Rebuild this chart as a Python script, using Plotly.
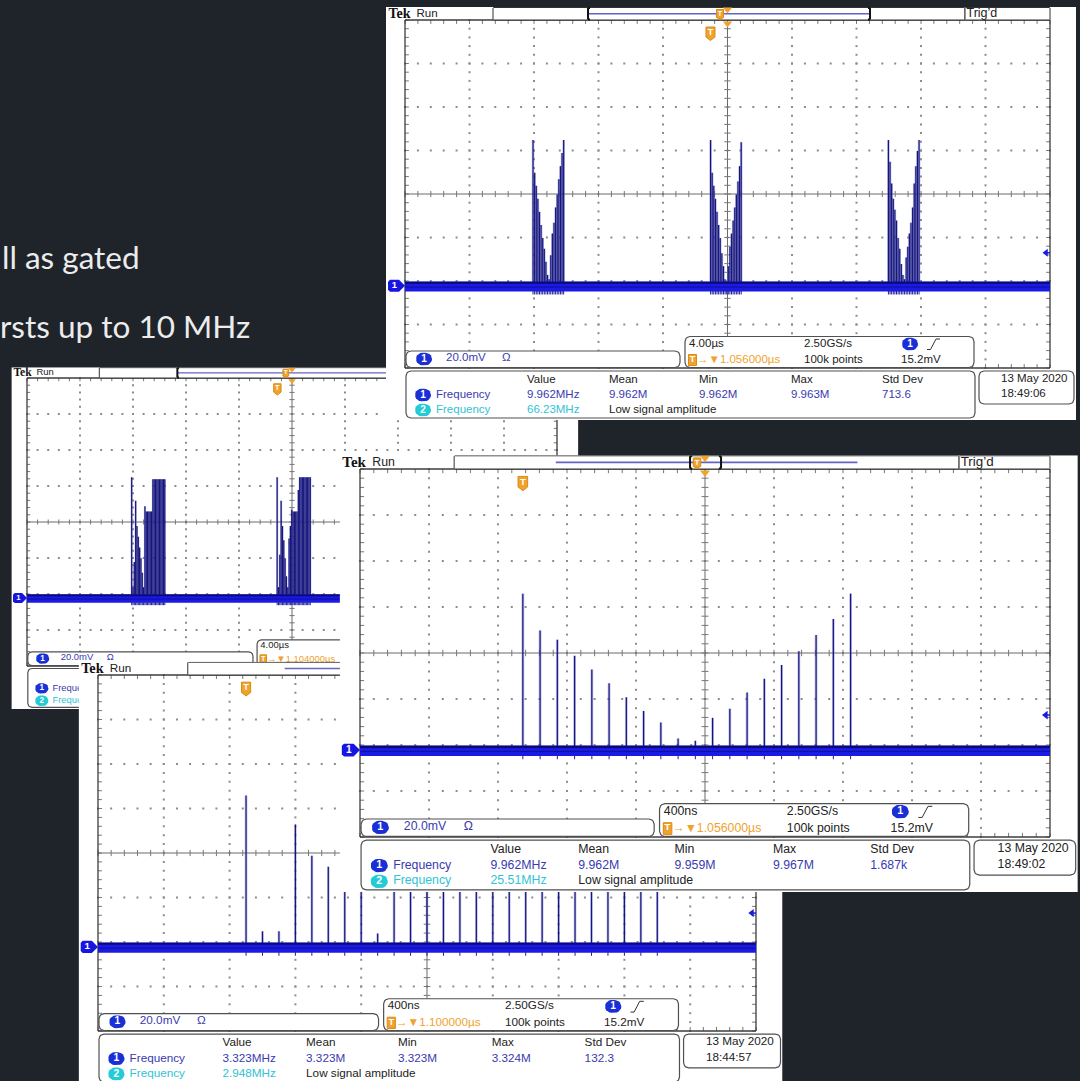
import numpy as np
import plotly.graph_objects as go

W, H = 1080, 1081
SLIDE_BG = "#1f232a"
SLIDE_LINES = ["ll as gated", "rsts up to 10 MHz"]

# ---------------- channel 1 settings (same on every capture) ----------------
CH1_POS_DIV = -2.11          # ground marker position, divisions
CH1_MV_PER_DIV = 20.0
TRIG_LEVEL_MV = 15.2

# ---------------- capture A: 4.00 us/div, trigger 1.104 us ----------------
A_US_PER_DIV = 4.0
A_TRIG_US = 1.104
A_BURST_START_US = [-12.10, -1.12]
A_PULSE_OFFSET_US = [0.0, 0.1, 0.2, 0.3, 0.4, 0.5, 0.6, 0.7, 0.8, 0.9, 1.0, 1.1, 1.2,
                     1.3, 1.4, 1.5, 1.6, 1.7, 1.8, 1.9, 2.0, 2.1, 2.2, 2.3, 2.4, 2.5]
A_PEAK_MV = [
    [67, 6, 20, 54, 40, 34, 28, 22, 14, 6, 51, 48, 48, 48, 48, 48,
     66, 66, 66, 66, 66, 66, 66, 66, 66, 66],
    [67, 6, 24, 54, 40, 32, 22, 12, 6, 33, 40, 49, 48, 48, 48, 48,
     60, 67, 67, 67, 67, 67, 67, 67, 67, 67],
]

# ---------------- capture B: 4.00 us/div, trigger 1.056 us ----------------
B_US_PER_DIV = 4.0
B_TRIG_US = 1.056
B_BURST_START_US = [-12.06, -1.05, 9.98]
B_PULSE_OFFSET_US = [0.0, 0.1, 0.2, 0.3, 0.4, 0.5, 0.6, 0.7, 0.8, 0.9,
                     1.0, 1.1, 1.2, 1.3, 1.4, 1.5, 1.6, 1.7, 1.8, 1.9]
B_PEAK_MV = [
    [67, 52, 46, 40, 34, 28, 22, 17, 11, 5, 3, 14, 24, 29, 36, 42, 49, 55, 61, 67],
    [67, 52, 46, 40, 34, 28, 22, 15, 9, 3, 2, 9, 18, 24, 30, 36, 42, 48, 55, 66],
    [67, 57, 47, 40, 35, 30, 22, 17, 10, 5, 3, 13, 18, 24, 29, 36, 47, 55, 62, 67],
]

# ---------------- capture C: 400 ns/div, trigger 1.100 us ----------------
C_NS_PER_DIV = 400.0
C_TRIG_NS = 1100.0
C_PULSE_NS = [-1100, -1000, -900, -800, -700, -600, -500, -400, -300, -200, -100, 0,
              100, 200, 300, 400, 500, 600, 700, 800, 900, 1000, 1100, 1200, 1300, 1400]
C_PEAK_MV = [68, 7, 7, 55, 41, 36, 31, 30, 6, 30, 29, 30, 29,
             30, 29, 30, 29, 30, 29, 30, 29, 30, 29, 30, 29, 30]

# ---------------- capture D: 400 ns/div, trigger 1.056 us ----------------
D_NS_PER_DIV = 400.0
D_TRIG_NS = 1056.0
D_PULSE_NS = [-1056, -956, -856, -756, -656, -556, -456, -356, -256, -156,
              -56, 44, 144, 244, 344, 444, 544, 644, 744, 844]
D_PEAK_MV = [68, 52, 48, 41, 35, 29, 23, 17, 12, 5, 4, 14, 18, 25, 31, 37, 43, 50, 57, 68]

# ---------------- readouts ----------------
MEAS_HEADERS = ["Value", "Mean", "Min", "Max", "Std Dev"]
B_CH1_MEAS = ["9.962MHz", "9.962M", "9.962M", "9.963M", "713.6"]
B_CH2_VALUE = "66.23MHz"
D_CH1_MEAS = ["9.962MHz", "9.962M", "9.959M", "9.967M", "1.687k"]
D_CH2_VALUE = "25.51MHz"
C_CH1_MEAS = ["3.323MHz", "3.323M", "3.323M", "3.324M", "132.3"]
C_CH2_VALUE = "2.948MHz"

SANS = "Liberation Sans, Arial, sans-serif"
SERIF = "Liberation Serif, Times New Roman, serif"
BLUE_TXT = "#3a3ab0"
CYAN_TXT = "#2fc3d3"
BLACK_TXT = "#222222"
ORANGE = "#f0a22e"
BADGE_BLUE = "#1a2fd6"
BADGE_CYAN = "#22cbd6"


# Screen layout of one Tek capture, in pixels of a reference-size capture
# whose graticule centre is (727.5, 194) with 64.5 x 43.5 px per division.
def rx(px):
    return (px - 727.5) / 64.5


def ry(py):
    return (194.0 - py) / 43.5


X_MIN, X_MAX = rx(386), rx(1076)
Y_TOP, Y_BOT = ry(7), ry(420)

fig = go.Figure()


def add_fill(ax, xs, ys, fill, line=None, width=0.0):
    fig.add_trace(go.Scatter(x=xs, y=ys, mode="lines", fill="toself", fillcolor=fill,
                             line=dict(color=line or fill, width=width),
                             xaxis=ax[0], yaxis=ax[1], hoverinfo="skip", showlegend=False))


def add_segments(ax, segs, color, width):
    xs, ys = [], []
    for x0, y0, x1, y1 in segs:
        xs += [x0, x1, None]
        ys += [y0, y1, None]
    fig.add_trace(go.Scatter(x=xs, y=ys, mode="lines", line=dict(color=color, width=width),
                             xaxis=ax[0], yaxis=ax[1], hoverinfo="skip", showlegend=False))


def add_markers(ax, xs, ys, symbol, size, color):
    fig.add_trace(go.Scatter(x=xs, y=ys, mode="markers",
                             marker=dict(symbol=symbol, size=size, color=color, line=dict(width=0)),
                             xaxis=ax[0], yaxis=ax[1], hoverinfo="skip", showlegend=False))


def add_text(ax, xs, ys, texts, size, color, family=SANS, pos="middle right", bold=False):
    fig.add_trace(go.Scatter(x=xs, y=ys, mode="text", text=texts, textposition=pos,
                             textfont=dict(size=size, color=color, family=family,
                                           weight="bold" if bold else "normal"),
                             xaxis=ax[0], yaxis=ax[1], hoverinfo="skip", showlegend=False))


def rounded(x0, y0, x1, y1, r, n=6):
    pts = []
    for cx, cy, a0, a1 in [(x1 - r, y0 + r, -90, 0), (x1 - r, y1 - r, 0, 90),
                           (x0 + r, y1 - r, 90, 180), (x0 + r, y0 + r, 180, 270)]:
        for a in np.linspace(a0, a1, n):
            t = np.radians(a)
            pts.append((cx + r * np.cos(t), cy + r * np.sin(t)))
    pts.append(pts[0])
    return [rx(p[0]) for p in pts], [ry(p[1]) for p in pts]


def badge(ax, cx, cy, label, color, s, w=16, h=12.5):
    xs, ys = rounded(cx - w / 2, cy - h / 2, cx + w / 2, cy + h / 2, h / 2)
    add_fill(ax, xs, ys, color)
    add_text(ax, [rx(cx)], [ry(cy)], [label], 10 * s, "#ffffff", pos="middle center", bold=True)


def t_badge(ax, cx, cy, s, hw=4.5, top=6, bot=4, tip=7.5, size=9):
    xs = [cx - hw, cx + hw, cx + hw, cx, cx - hw, cx - hw]
    ys = [cy - top, cy - top, cy + bot, cy + tip, cy + bot, cy - top]
    add_fill(ax, [rx(v) for v in xs], [ry(v) for v in ys], ORANGE, "#d98b12", 1)
    add_text(ax, [rx(cx)], [ry(cy - 0.5)], ["T"], size * s, "#ffffff", pos="middle center", bold=True)


def draw_capture(ax, cap):
    s = cap["ppd"][0] / 64.5
    fs = 11.5 * s

    # screen background
    add_fill(ax, [X_MIN, X_MAX, X_MAX, X_MIN, X_MIN], [Y_BOT, Y_BOT, Y_TOP, Y_TOP, Y_BOT], "#ffffff")

    # dotted graticule
    fine_x = np.round(np.arange(-5, 5.0001, 0.2), 4)
    fine_y = np.round(np.arange(-4, 4.0001, 0.2), 4)
    dx, dy = [], []
    for k in [-4, -3, -2, -1, 1, 2, 3, 4]:
        dx += [k] * len(fine_y)
        dy += list(fine_y)
    for k in [-3, -2, -1, 1, 2, 3]:
        dx += list(fine_x)
        dy += [k] * len(fine_x)
    add_markers(ax, dx, dy, "square", 2.0, "#8c8c8c")

    # centre cross with minor ticks
    add_segments(ax, [(-5, 0, 5, 0), (0, -4, 0, 4)], "#6a6a6a", 1)
    ticks = [(x, -0.07, x, 0.07) for x in fine_x] + [(-0.05, y, 0.05, y) for y in fine_y]
    # border ticks pointing inwards
    ticks += [(x, 4, x, 3.91) for x in fine_x] + [(x, -4, x, -3.91) for x in fine_x]
    ticks += [(-5, y, -4.94, y) for y in fine_y] + [(5, y, 4.94, y) for y in fine_y]
    add_segments(ax, ticks, "#777777", 1)
    add_segments(ax, [(-5, -4, 5, -4), (5, -4, 5, 4), (5, 4, -5, 4), (-5, 4, -5, -4)], "#3c3c3c", 1.3)

    # channel 1 waveform: pulses rising from the noisy baseline
    base = CH1_POS_DIV
    px, py = [], []
    for t, p in zip(cap["pulse_div"], cap["peak_mv"]):
        px += [t, t, None]
        py += [base - 0.05, base + p / CH1_MV_PER_DIV, None]
    fig.add_trace(go.Scatter(x=px, y=py, mode="lines",
                             line=dict(color="rgba(110,110,205,0.45)", width=2.6 * s),
                             xaxis=ax[0], yaxis=ax[1], hoverinfo="skip", showlegend=False))
    fig.add_trace(go.Scatter(x=px, y=py, mode="lines", line=dict(color="#15157a", width=1.2),
                             xaxis=ax[0], yaxis=ax[1], hoverinfo="skip", showlegend=False))
    add_fill(ax, [-5, 5, 5, -5, -5], [base - 0.13, base - 0.13, base + 0.10, base + 0.10, base - 0.13],
             "#1a1ae4")
    add_segments(ax, [(-5, base + 0.07, 5, base + 0.07)], "#0a0a70", 2 * s)
    add_segments(ax, [(-5, base - 0.03, 5, base - 0.03)], "#10109a", 1)
    # ringing just below the baseline at each pulse
    add_segments(ax, [(t, base - 0.12, t, base - 0.2) for t in cap["pulse_div"]], "#20209a", 1)

    # ground marker and trigger-level marker
    by = 194.0 - base * 43.5
    gx = [390, 399, 405, 399, 390, 388, 388, 390]
    gy = [by - 6, by - 6, by, by + 6, by + 6, by + 4, by - 4, by - 6]
    add_fill(ax, [rx(v) for v in gx], [ry(v) for v in gy], "#1616e0")
    add_text(ax, [rx(394.5)], [base], ["1"], 9.5 * s, "#ffffff", pos="middle center", bold=True)
    lvl = base + TRIG_LEVEL_MV / CH1_MV_PER_DIV
    add_markers(ax, [rx(1046)], [lvl], "triangle-left", 7 * s, "#1a1ae0")
    add_segments(ax, [(rx(1046), lvl, rx(1050), lvl)], "#1a1ae0", 1.5)

    # trigger position badge on the graticule
    t_badge(ax, 727.5 + cap["trig_div"] * 64.5, 33, s)

    # ---------------- header bar ----------------
    add_fill(ax, *rounded(493, 7.5, 965, 20, 0.5), "#ffffff", "#333333", 1)
    add_fill(ax, *rounded(965, 7.5, 1050, 20, 0.5), "#ffffff", "#333333", 1)
    add_segments(ax, [(rx(588), ry(13.7), rx(870), ry(13.7))], "#6464c4", 1.5 * s)
    b0, b1 = cap["bracket"]
    add_segments(ax, [(rx(b0), ry(8), rx(b0), ry(19.5)), (rx(b1), ry(8), rx(b1), ry(19.5)),
                      (rx(b0), ry(8), rx(b0 + 2), ry(8)), (rx(b0), ry(19.5), rx(b0 + 2), ry(19.5)),
                      (rx(b1), ry(8), rx(b1 - 2), ry(8)), (rx(b1), ry(19.5), rx(b1 - 2), ry(19.5))],
                 "#111111", 2)
    t_badge(ax, 720, 14.5, s, hw=3.5, top=5, bot=3, tip=5, size=7)
    add_markers(ax, [0, 0], [ry(9.5), ry(23.5)], "triangle-down", 8 * s, ORANGE)
    add_text(ax, [rx(388.5)], [ry(14.5)], ["Tek"], 14 * s, "#111111", family=SERIF, bold=True)
    add_text(ax, [rx(416.5)], [ry(14)], ["Run"], 11.5 * s, BLACK_TXT)
    if cap["trigd"]:
        add_text(ax, [rx(966.5)], [ry(14)], ["Trig’d"], 12.5 * s, BLACK_TXT)

    # ---------------- readout boxes ----------------
    add_fill(ax, *rounded(406, 351, 680, 367.5, 5), "#ffffff", "#505050", 1.2)
    add_fill(ax, *rounded(685, 336.5, 974, 367.5, 5), "#ffffff", "#505050", 1.2)
    add_fill(ax, *rounded(406, 371, 975, 418, 5), "#ffffff", "#505050", 1.2)
    add_fill(ax, *rounded(979, 371, 1074, 404, 5), "#ffffff", "#505050", 1.2)

    # channel scale box
    badge(ax, 424, 359, "1", BADGE_BLUE, s)
    add_text(ax, [rx(446), rx(502)], [ry(358.5)] * 2, ["20.0mV", "Ω"], fs, BLUE_TXT)

    # timebase / trigger box
    add_text(ax, [rx(689)], [ry(344)], [cap["timebase"]], fs, BLACK_TXT)
    t_badge(ax, 692.5, 360, s, hw=4, top=5.5, bot=5.5, tip=5.5, size=9)
    add_text(ax, [rx(697)], [ry(360)], ["→▼" + cap["trig_label"]], fs, ORANGE)
    if cap["acq"]:
        add_text(ax, [rx(804), rx(804), rx(901)], [ry(344), ry(360), ry(360)],
                 ["2.50GS/s", "100k points", "15.2mV"], fs, BLACK_TXT)
        badge(ax, 910, 344, "1", BADGE_BLUE, s)
        add_segments(ax, [(rx(927), ry(349.5), rx(930.5), ry(349.5)),
                          (rx(930.5), ry(349.5), rx(936), ry(339)),
                          (rx(936), ry(339), rx(940), ry(339))], "#333333", 1)

    # measurement table
    badge(ax, 423, 395, "1", BADGE_BLUE, s)
    badge(ax, 423, 410, "2", BADGE_CYAN, s)
    add_text(ax, [rx(436)], [ry(395)], ["Frequency"], fs, BLUE_TXT)
    add_text(ax, [rx(436)], [ry(410)], ["Frequency"], fs, CYAN_TXT)
    cols = [527, 609, 699, 791, 882]
    if cap["meas1"]:
        add_text(ax, [rx(c) for c in cols], [ry(380)] * 5, MEAS_HEADERS, fs, BLACK_TXT)
        add_text(ax, [rx(c) for c in cols], [ry(395)] * 5, cap["meas1"], fs, BLUE_TXT)
        add_text(ax, [rx(527)], [ry(410)], [cap["meas2"]], fs, CYAN_TXT)
        add_text(ax, [rx(609)], [ry(410)], ["Low signal amplitude"], fs, BLACK_TXT)
        add_text(ax, [rx(1001), rx(1001)], [ry(379), ry(394)], [cap["date"], cap["clock"]], fs, BLACK_TXT)


CAPTURES = [
    dict(center=(292, 522), ppd=(53, 36),
         pulse_div=[(b + o) / A_US_PER_DIV for b in A_BURST_START_US for o in A_PULSE_OFFSET_US],
         peak_mv=[p for burst in A_PEAK_MV for p in burst],
         trig_div=-A_TRIG_US / A_US_PER_DIV, bracket=(588, 870),
         timebase="4.00µs", trig_label="1.104000µs", trigd=False, acq=False,
         meas1=None, meas2=None, date=None, clock=None),
    dict(center=(727.5, 194), ppd=(64.5, 43.5),
         pulse_div=[(b + o) / B_US_PER_DIV for b in B_BURST_START_US for o in B_PULSE_OFFSET_US],
         peak_mv=[p for burst in B_PEAK_MV for p in burst],
         trig_div=-B_TRIG_US / B_US_PER_DIV, bracket=(588, 870),
         timebase="4.00µs", trig_label="1.056000µs", trigd=True, acq=True,
         meas1=B_CH1_MEAS, meas2=B_CH2_VALUE, date="13 May 2020", clock="18:49:06"),
    dict(center=(427, 853), ppd=(65.8, 44.5),
         pulse_div=[t / C_NS_PER_DIV for t in C_PULSE_NS], peak_mv=C_PEAK_MV,
         trig_div=-C_TRIG_NS / C_NS_PER_DIV, bracket=(713.5, 742.5),
         timebase="400ns", trig_label="1.100000µs", trigd=False, acq=True,
         meas1=C_CH1_MEAS, meas2=C_CH2_VALUE, date="13 May 2020", clock="18:44:57"),
    dict(center=(705, 653), ppd=(69, 46),
         pulse_div=[t / D_NS_PER_DIV for t in D_PULSE_NS], peak_mv=D_PEAK_MV,
         trig_div=-D_TRIG_NS / D_NS_PER_DIV, bracket=(713.5, 742.5),
         timebase="400ns", trig_label="1.056000µs", trigd=True, acq=True,
         meas1=D_CH1_MEAS, meas2=D_CH2_VALUE, date="13 May 2020", clock="18:49:02"),
]

layout_axes = {}
for i, cap in enumerate(CAPTURES, start=1):
    sfx = "" if i == 1 else str(i)
    cx, cy = cap["center"]
    ppx, ppy = cap["ppd"]
    left = max(0.0, cx + X_MIN * ppx)
    right = min(W, cx + X_MAX * ppx)
    top = max(0.0, cy - Y_TOP * ppy)
    bottom = min(H, cy - Y_BOT * ppy)
    layout_axes["xaxis" + sfx] = dict(domain=[left / W, right / W],
                                      range=[(left - cx) / ppx, (right - cx) / ppx],
                                      visible=False, fixedrange=True, anchor="y" + sfx)
    layout_axes["yaxis" + sfx] = dict(domain=[1 - bottom / H, 1 - top / H],
                                      range=[(cy - bottom) / ppy, (cy - top) / ppy],
                                      visible=False, fixedrange=True, anchor="x" + sfx)
    draw_capture(("x" + sfx, "y" + sfx), cap)

annotations = [
    dict(text=SLIDE_LINES[0], x=0.0, y=1 - 256.8 / H, xref="paper", yref="paper",
         xanchor="left", yanchor="middle", showarrow=False,
         font=dict(family="Lato, Open Sans, sans-serif", size=31.5, color="#ececec")),
    dict(text=SLIDE_LINES[1], x=-2 / W, y=1 - 325.8 / H, xref="paper", yref="paper",
         xanchor="left", yanchor="middle", showarrow=False,
         font=dict(family="Lato, Open Sans, sans-serif", size=31.5, color="#ececec")),
]

fig.update_layout(width=W, height=H, margin=dict(l=0, r=0, t=0, b=0),
                  paper_bgcolor=SLIDE_BG, plot_bgcolor="rgba(0,0,0,0)",
                  showlegend=False, annotations=annotations, **layout_axes)

fig.write_html("out.html")
